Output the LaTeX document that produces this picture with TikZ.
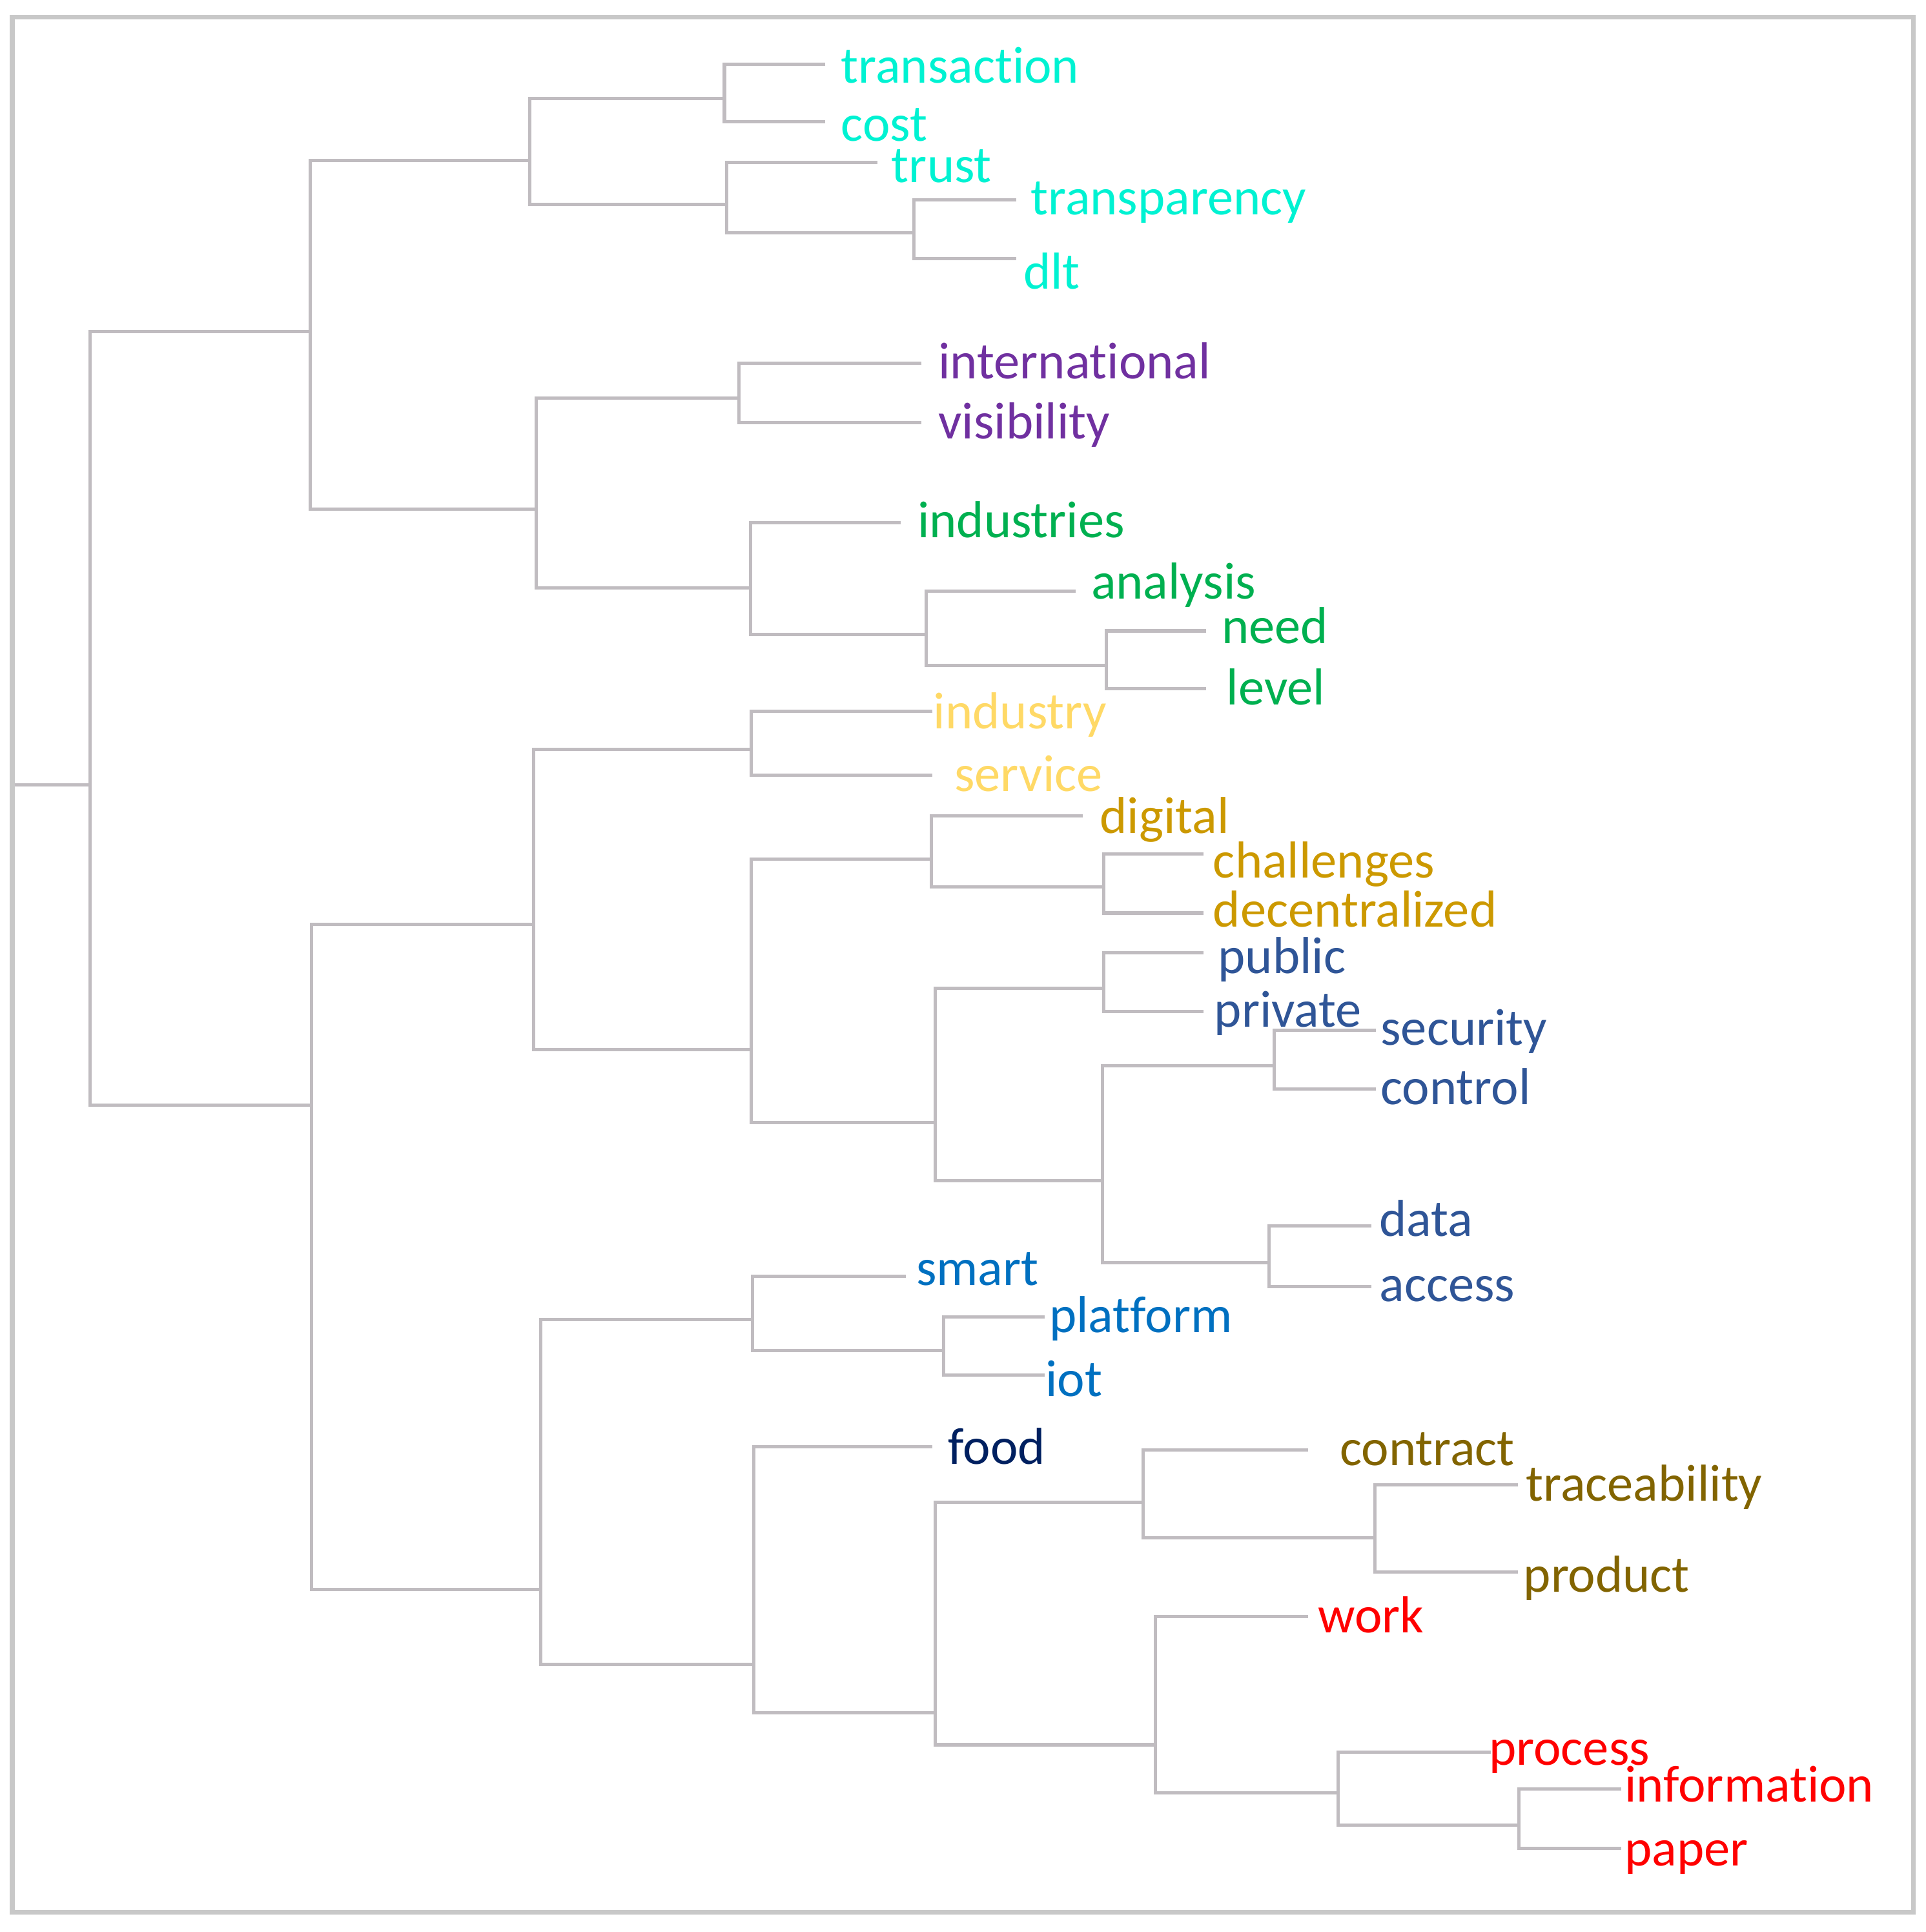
\documentclass[tikz,border=0pt]{standalone}
\usepackage{fontspec}
\setmainfont{Carlito}[Ligatures=NoCommon]
\usepackage{tikz}
\usetikzlibrary{positioning}
\definecolor{treegray}{RGB}{192,188,192}
\definecolor{framegray}{RGB}{200,200,200}
\definecolor{cyanw}{RGB}{0,242,210}
\definecolor{purplew}{RGB}{112,48,160}
\definecolor{greenw}{RGB}{0,176,80}
\definecolor{lightgoldw}{RGB}{255,217,102}
\definecolor{goldw}{RGB}{204,153,0}
\definecolor{bluew}{RGB}{47,85,151}
\definecolor{skyw}{RGB}{0,112,192}
\definecolor{navyw}{RGB}{0,32,96}
\definecolor{olivew}{RGB}{130,100,0}
\definecolor{redw}{RGB}{255,0,0}
\tikzstyle{branch}=[draw=treegray, line width=0.75pt]
\tikzstyle{word}=[anchor=west, inner sep=0pt, text height=0.64em, text depth=0pt, yshift=-0.02cm, font=\fontsize{12}{14}\selectfont]

\begin{document}
\begin{tikzpicture}[x=0.01cm, y=-0.01cm]
  \useasboundingbox (0,0) rectangle (1563,1568);
  \draw[framegray, line width=1.1pt] (10,14) rectangle (1553,1552);
  % junctions
  \coordinate (stub) at (12,637);
  \coordinate (root) at (73,637);
  \coordinate (n1) at (252,269);
  \coordinate (n2) at (253,897);
  \coordinate (n11) at (430,130);
  \coordinate (n12) at (435,413);
  \coordinate (n111) at (588,80);
  \coordinate (n112) at (590,166);
  \coordinate (n1122) at (742,189);
  \coordinate (n121) at (600,323);
  \coordinate (n122) at (609,477);
  \coordinate (n1222) at (752,515);
  \coordinate (n12222) at (898,540);
  \coordinate (n21) at (433,750);
  \coordinate (n22) at (439,1290);
  \coordinate (n211) at (610,608);
  \coordinate (n212) at (610,852);
  \coordinate (n2121) at (756,697);
  \coordinate (n21212) at (896,720);
  \coordinate (n2122) at (759,911);
  \coordinate (n21221) at (896,802);
  \coordinate (n21222) at (895,958);
  \coordinate (n212221) at (1034,865);
  \coordinate (n212222) at (1030,1025);
  \coordinate (n221) at (611,1071);
  \coordinate (n2212) at (766,1096);
  \coordinate (n222) at (612,1351);
  \coordinate (n2222) at (759,1390);
  \coordinate (n22221) at (928,1219);
  \coordinate (n222212) at (1116,1248);
  \coordinate (n22222) at (938,1416);
  \coordinate (n222222) at (1086,1455);
  \coordinate (n2222222) at (1233,1481);
  % leaf ends
  \coordinate (e-transaction) at (670,52);
  \coordinate (e-cost) at (670,99);
  \coordinate (e-trust) at (712,132);
  \coordinate (e-transparency) at (825,162);
  \coordinate (e-dlt) at (825,210);
  \coordinate (e-international) at (748,295);
  \coordinate (e-visibility) at (748,343);
  \coordinate (e-industries) at (731,424);
  \coordinate (e-analysis) at (873,480);
  \coordinate (e-need) at (979,512);
  \coordinate (e-level) at (979,559);
  \coordinate (e-industry) at (757,577);
  \coordinate (e-service) at (757,629);
  \coordinate (e-digital) at (879,662);
  \coordinate (e-challenges) at (977,693);
  \coordinate (e-decentralized) at (977,741);
  \coordinate (e-public) at (977,773);
  \coordinate (e-private) at (977,821);
  \coordinate (e-security) at (1117,836);
  \coordinate (e-control) at (1117,884);
  \coordinate (e-data) at (1113,995);
  \coordinate (e-access) at (1113,1044);
  \coordinate (e-smart) at (735,1036);
  \coordinate (e-platform) at (848,1069);
  \coordinate (e-iot) at (848,1116);
  \coordinate (e-food) at (757,1174);
  \coordinate (e-contract) at (1062,1177);
  \coordinate (e-traceability) at (1232,1205);
  \coordinate (e-product) at (1232,1276);
  \coordinate (e-work) at (1062,1312);
  \coordinate (e-process) at (1210,1422);
  \coordinate (e-information) at (1316,1452);
  \coordinate (e-paper) at (1316,1500);
  % branches
  \draw[branch] (stub) -- (root);
  \draw[branch] (n1) -| (root) |- (n2);
  \draw[branch] (n11) -| (n1) |- (n12);
  \draw[branch] (n111) -| (n11) |- (n112);
  \draw[branch] (e-transaction) -| (n111) |- (e-cost);
  \draw[branch] (e-trust) -| (n112) |- (n1122);
  \draw[branch] (e-transparency) -| (n1122) |- (e-dlt);
  \draw[branch] (n121) -| (n12) |- (n122);
  \draw[branch] (e-international) -| (n121) |- (e-visibility);
  \draw[branch] (e-industries) -| (n122) |- (n1222);
  \draw[branch] (e-analysis) -| (n1222) |- (n12222);
  \draw[branch] (e-need) -| (n12222) |- (e-level);
  \draw[branch] (n21) -| (n2) |- (n22);
  \draw[branch] (n211) -| (n21) |- (n212);
  \draw[branch] (e-industry) -| (n211) |- (e-service);
  \draw[branch] (n2121) -| (n212) |- (n2122);
  \draw[branch] (e-digital) -| (n2121) |- (n21212);
  \draw[branch] (e-challenges) -| (n21212) |- (e-decentralized);
  \draw[branch] (n21221) -| (n2122) |- (n21222);
  \draw[branch] (e-public) -| (n21221) |- (e-private);
  \draw[branch] (n212221) -| (n21222) |- (n212222);
  \draw[branch] (e-security) -| (n212221) |- (e-control);
  \draw[branch] (e-data) -| (n212222) |- (e-access);
  \draw[branch] (n221) -| (n22) |- (n222);
  \draw[branch] (e-smart) -| (n221) |- (n2212);
  \draw[branch] (e-platform) -| (n2212) |- (e-iot);
  \draw[branch] (e-food) -| (n222) |- (n2222);
  \draw[branch] (n22221) -| (n2222) |- (n22222);
  \draw[branch] (e-contract) -| (n22221) |- (n222212);
  \draw[branch] (e-traceability) -| (n222212) |- (e-product);
  \draw[branch] (e-work) -| (n22222) |- (n222222);
  \draw[branch] (e-process) -| (n222222) |- (n2222222);
  \draw[branch] (e-information) -| (n2222222) |- (e-paper);
  % words
  \node[word, cyanw] (transaction) at (682,54) {transaction};
  \node[word, cyanw] (cost) at (682,101) {cost};
  \node[word, cyanw] (trust) at (723,135) {trust};
  \node[word, cyanw] (transparency) at (836,161) {transparency};
  \node[word, cyanw] (dlt) at (830,221) {dlt};
  \node[word, purplew] (international) at (761,294) {international};
  \node[word, purplew] (visibility) at (761,343) {visibility};
  \node[word, greenw] (industries) at (744,423) {industries};
  \node[word, greenw] (analysis) at (885,473) {analysis};
  \node[word, greenw] (need) at (991,509) {need};
  \node[word, greenw] (level) at (995,559) {level};
  \node[word, lightgoldw] (industry) at (757,578) {industry};
  \node[word, lightgoldw] (service) at (774,629) {service};
  \node[word, goldw] (digital) at (892,663) {digital};
  \node[word, goldw] (challenges) at (984,699) {challenges};
  \node[word, goldw] (decentralized) at (984,739) {decentralized};
  \node[word, bluew] (public) at (988,777) {public};
  \node[word, bluew] (private) at (985,820) {private};
  \node[word, bluew] (security) at (1120,835) {security};
  \node[word, bluew] (control) at (1120,883) {control};
  \node[word, bluew] (data) at (1119,990) {data};
  \node[word, bluew] (access) at (1119,1043) {access};
  \node[word, skyw] (smart) at (743,1030) {smart};
  \node[word, skyw] (platform) at (851,1068) {platform};
  \node[word, skyw] (iot) at (848,1120) {iot};
  \node[word, navyw] (food) at (769,1175) {food};
  \node[word, olivew] (contract) at (1087,1176) {contract};
  \node[word, olivew] (traceability) at (1238,1205) {traceability};
  \node[word, olivew] (product) at (1236,1279) {product};
  \node[word, redw] (work) at (1069,1312) {work};
  \node[word, redw] (process) at (1208,1419) {process};
  \node[word, redw] (information) at (1318,1449) {information};
  \node[word, redw] (paper) at (1318,1501) {paper};
\end{tikzpicture}
\end{document}
